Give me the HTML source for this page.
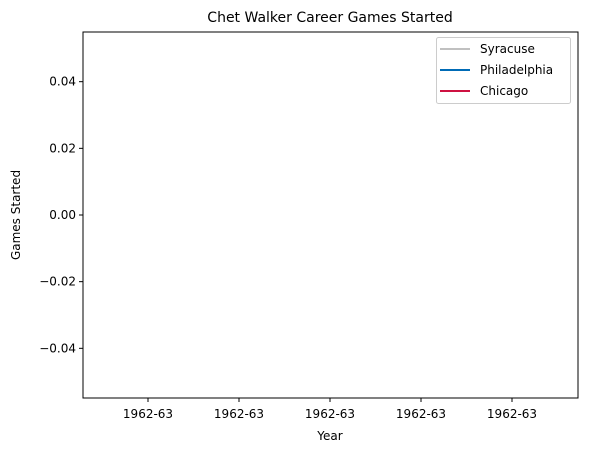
<!DOCTYPE html>
<html><head><meta charset="utf-8"><style>
body{margin:0;background:#fff;width:591px;height:453px;overflow:hidden}
text{font-family:"DejaVu Sans","Liberation Sans",sans-serif;fill:#000}
</style></head><body>
<svg id="chart" width="591" height="453">
<rect x="83" y="32" width="495" height="366" fill="#fff" stroke="#000" stroke-width="1"/>
<text x="330" y="22" text-anchor="middle" font-size="14">Chet Walker Career Games Started</text>
<text x="330" y="440" text-anchor="middle" font-size="12">Year</text>
<text x="20" y="215" text-anchor="middle" font-size="12" transform="rotate(-90 20 215)">Games Started</text>
<g id="ticks"></g>
<g id="series"></g>
<g>
<rect x="436.5" y="37.5" width="134" height="66" rx="2" fill="#fff" stroke="#ccc"/>
<line x1="440" y1="49" x2="470" y2="49" stroke="#c0c0c0" stroke-width="2"/>
<text x="480" y="53" font-size="12">Syracuse</text>
<line x1="440" y1="70" x2="470" y2="70" stroke="#006bb6" stroke-width="2"/>
<text x="480" y="74" font-size="12">Philadelphia</text>
<line x1="440" y1="91" x2="470" y2="91" stroke="#ce1141" stroke-width="2"/>
<text x="480" y="95" font-size="12">Chicago</text>
</g>
</svg>
<script>
const xTickLabels=["1962-63","1962-63","1962-63","1962-63","1962-63"];
const yTicks=[0.04,0.02,0.00,-0.02,-0.04];
const categories=[];
const syracuse=[];
const philadelphia=[];
const chicago=[];
const ns="http://www.w3.org/2000/svg";
function yScale(v){return 215-v*3333;}
function xTickScale(i){return 148+i*91;}
const g=document.getElementById('ticks');
yTicks.forEach(v=>{
 const y=yScale(v);
 const l=document.createElementNS(ns,'line');
 l.setAttribute('x1',79);l.setAttribute('x2',83);l.setAttribute('y1',y);l.setAttribute('y2',y);l.setAttribute('stroke','#000');
 
 
 g.appendChild(l);
 const t=document.createElementNS(ns,'text');
 t.setAttribute('x',76);t.setAttribute('y',y+4);t.setAttribute('text-anchor','end');t.setAttribute('font-size','12');
 t.textContent=(v<0?'\u2212':'')+Math.abs(v).toFixed(2);
 
 
 g.appendChild(t);
});
xTickLabels.forEach((s,i)=>{
 const x=xTickScale(i);
 const l=document.createElementNS(ns,'line');
 l.setAttribute('x1',x);l.setAttribute('x2',x);l.setAttribute('y1',398);l.setAttribute('y2',402);l.setAttribute('stroke','#000');
 
 
 g.appendChild(l);
 const t=document.createElementNS(ns,'text');
 t.setAttribute('x',x);t.setAttribute('y',418);t.setAttribute('text-anchor','middle');t.setAttribute('font-size','12');
 t.textContent=s;
 
 
 g.appendChild(t);
});
const sg=document.getElementById('series');
[[syracuse,'#c0c0c0','syracuse-line'],[philadelphia,'#006bb6','philadelphia-line'],[chicago,'#ce1141','chicago-line']].forEach(([d,c,n])=>{
 if(!d.length)return;
 const p=document.createElementNS(ns,'polyline');
 p.setAttribute('points',d.map((v,i)=>xTickScale(i)+','+yScale(v)).join(' '));
 p.setAttribute('fill','none');p.setAttribute('stroke',c);p.setAttribute('stroke-width','2');
 
 
 sg.appendChild(p);
});
</script>
</body></html>
